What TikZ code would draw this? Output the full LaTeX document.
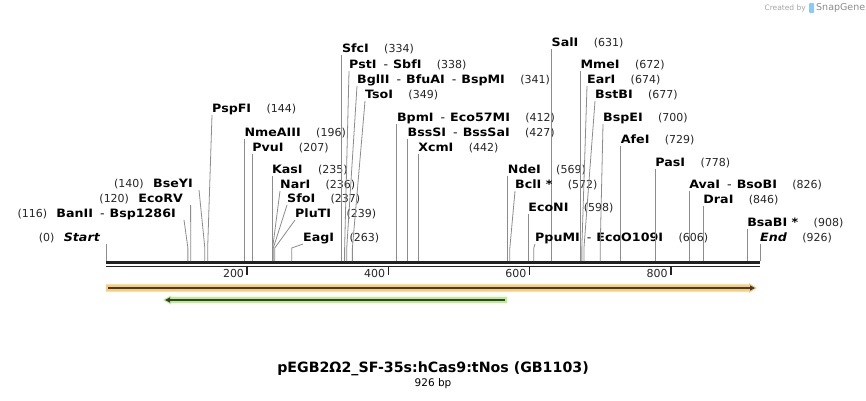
\documentclass[tikz,border=0pt]{standalone}
\usepackage{fontspec}
\setmainfont{DejaVu Sans}
\newfontfamily\lblfont{DejaVu Sans}[FakeStretch=1.1]
\usetikzlibrary{arrows.meta}
\definecolor{cutgray}{HTML}{8C8C8C}
\definecolor{barcol}{HTML}{222222}
\definecolor{orfill}{HTML}{FBCB78}
\definecolor{grfill}{HTML}{B8F08C}
\definecolor{featline}{HTML}{3C3C3C}
\definecolor{sgblue}{HTML}{8CCBEF}
\tikzset{
  lbl/.style={font=\lblfont\fontsize{11.5}{13}\selectfont\bfseries, inner sep=0pt, anchor=base west, text=black},
  num/.style={font=\fontsize{11}{13}\selectfont, inner sep=0pt, anchor=base west, text=black!85},
  cut/.style={draw=cutgray, line width=0.8pt},
  ticklbl/.style={font=\fontsize{11}{13}\selectfont, inner sep=0pt, anchor=base east, text=black!85},
}
% right-hand site: id, name x, centre y, text, position
\newcommand\rs[5]{%
  \node[lbl] (#1) at ({#2},{#3+4}) {#4};
  \node[num] (#1n) at ([xshift=15pt]#1.base east) {(#5)};
  \coordinate (#1b) at ({106+#5*0.706},261);
  \draw[cut] (#1.base west) ++(0,3) -- ({106+#5*0.706},248) -- (#1b);
}
% vertical right-hand site: id, centre y, text, position
\newcommand\rv[4]{\rs{#1}{106+#4*0.706}{#2}{#3}{#4}}
% left-hand site: id, name east x, centre y, text, position, dx
\newcommand\ls[6]{%
  \node[lbl, anchor=base east] (#1) at ({#2},{#3+4}) {#4};
  \node[num, anchor=base east] (#1n) at ([xshift=-9pt]#1.base west) {(#5)};
  \coordinate (#1b) at ({106+#5*0.706},261);
  \draw[cut] (#1.base east) ++(#6,3) -- ({106+#5*0.706},248) -- (#1b);
}
\newcommand\dsh{\hspace{7pt}{\mdseries -}\hspace{5pt}}
\begin{document}
\begin{tikzpicture}[x=1pt,y=-1pt]
\useasboundingbox[fill=white] (0,0) rectangle (866,400);

% SnapGene credit
\node[font=\fontsize{7.5}{9}\selectfont, text=black!35, anchor=east, inner sep=0pt] (cby) at (806,8) {Created by};
\fill[sgblue, rounded corners=1pt] (809,3) rectangle (814,13);
\node[font=\fontsize{9.5}{11}\selectfont, text=black!45, anchor=west, inner sep=0pt] (sg) at (816,8) {SnapGene};

% sequence bar
\draw[barcol, line width=3pt] (106,262.5) -- (760,262.5);
\draw[barcol, line width=1.8pt] (106,266.4) -- (760,266.4);
\foreach \p in {200,400,600,800}{
  \draw[barcol, line width=1.6pt] ({106+\p*0.706},267) -- ({106+\p*0.706},275);
  \node[ticklbl] (t\p) at ({103+\p*0.706},277) {\p};
}

% left-hand sites
\node[lbl, anchor=base east, font=\lblfont\fontsize{11.5}{13}\selectfont\bfseries\itshape] (start) at (100,241) {Start};
\node[num, anchor=base east] (startn) at ([xshift=-9pt]start.base west) {(0)};
\coordinate (startb) at (106,261);
\draw[cut] (start.base east) ++(6,3) -- (startb);
\ls{banii}{176}{213}{BanII\dsh Bsp1286I}{116}{8}
\ls{ecorv}{183}{198}{EcoRV}{120}{7.6}
\ls{bseyi}{193}{183}{BseYI}{140}{6}

% right-hand sites
\rs{pspfi}{212}{108}{PspFI}{144}
\rv{nmeaiii}{132}{NmeAIII}{196}
\rv{pvui}{147}{PvuI}{207}
\rv{kasi}{169}{KasI}{235}
\rs{nari}{280}{184}{NarI}{236}
\rs{sfoi}{287}{198}{SfoI}{237}
\rs{pluti}{295}{213}{PluTI}{239}
\rs{eagi}{303}{237}{EagI}{263}
\rv{sfci}{48}{SfcI}{334}
\rs{psti}{349}{64}{PstI\dsh SbfI}{338}
\rs{bglii}{357}{79}{BglII\dsh BfuAI\dsh BspMI}{341}
\rs{tsoi}{365}{94}{TsoI}{349}
\rv{bpmi}{117}{BpmI\dsh Eco57MI}{412}
\rv{bsssi}{132}{BssSI\dsh BssSaI}{427}
\rv{xcmi}{147}{XcmI}{442}
\rv{sali}{42}{SalI}{631}
\rv{ndei}{169}{NdeI}{569}
\rs{bcli}{515}{184}{BclI *}{572}
\rv{econi}{207}{EcoNI}{598}
\rs{ppumi}{535}{237}{PpuMI\dsh EcoO109I}{606}
\rv{mmei}{64}{MmeI}{672}
\rs{eari}{587}{79}{EarI}{674}
\rs{bstbi}{595}{94}{BstBI}{677}
\rs{bspei}{603}{117}{BspEI}{700}
\rv{afei}{139}{AfeI}{729}
\rv{pasi}{162}{PasI}{778}
\rv{avai}{184}{AvaI\dsh BsoBI}{826}
\rv{drai}{199}{DraI}{846}
\rv{bsabi}{222}{BsaBI *}{908}
\node[lbl, font=\lblfont\fontsize{11.5}{13}\selectfont\bfseries\itshape] (endl) at (760,241) {End};
\node[num] (endln) at ([xshift=15pt]endl.base east) {(926)};
\coordinate (endb) at (760,261);
\draw[cut] (endl.base west) ++(0,3) -- (endb);

% features
\fill[orfill] (106,284.3) -- (749,284.3) -- (749,283) -- (757,288) -- (749,293) -- (749,291.7) -- (106,291.7) -- cycle;
\draw[featline, line width=1.6pt, -{Triangle[length=5pt,width=5pt]}] (108,288) -- (755,288);
\fill[grfill] (507,296.8) -- (171,296.8) -- (171,295.5) -- (163,300) -- (171,304.5) -- (171,303.2) -- (507,303.2) -- cycle;
\draw[featline, line width=1.6pt, -{Triangle[length=5pt,width=5pt]}] (505,300) -- (165,300);

% title
\node[font=\fontsize{14.2}{16}\selectfont\bfseries, inner sep=0pt] (title) at (433,369) {pEGB2Ω2\_SF-35s:hCas9:tNos (GB1103)};
\node[font=\fontsize{10.5}{12}\selectfont, inner sep=0pt] (len) at (433,384) {926 bp};
\end{tikzpicture}
\end{document}
